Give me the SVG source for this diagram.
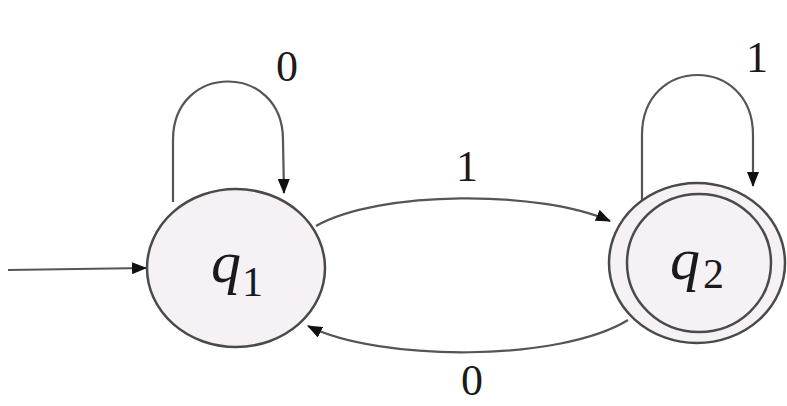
<svg xmlns="http://www.w3.org/2000/svg" width="787" height="406" viewBox="0 0 787 406">
  <style>
    .state { fill: #f5f1f5; stroke: #4a4a4a; stroke-width: 2.5; }
    .ring { fill: none; stroke: #4a4a4a; stroke-width: 2.5; }
    .edge { fill: none; stroke: #555555; stroke-width: 2.2; marker-end: url(#arrow); }
    .name { font-family: "Liberation Serif", "DejaVu Serif", serif; font-style: italic; fill: #1a1a1a; }
    .sub { font-family: "Liberation Serif", "DejaVu Serif", serif; fill: #1a1a1a; }
    .label { font-family: "Liberation Serif", "DejaVu Serif", serif; font-size: 44px; fill: #1a1a1a; text-anchor: middle; }
  </style>
  <defs>
    <marker id="arrow" markerUnits="userSpaceOnUse" markerWidth="16" markerHeight="12" refX="14" refY="6" orient="auto">
      <path d="M0,0 L15,6 L0,12 z" fill="#111111"/>
    </marker>
  </defs>

  <rect width="787" height="406" fill="#ffffff"/>

  <!-- transitions -->
  <g id="edges">
    <path id="start" class="edge" d="M8,270 L146,268"/>
    <path id="q1-q1" class="edge" d="M173,202 L173,140 C173,62 283,62 283,140 L284,193"/>
    <path id="q2-q2" class="edge" d="M642,202 L642,135 C642,55 753,55 753,135 L753,186"/>
    <path id="q1-q2" class="edge" d="M316,226 C380,190 540,190 610,221"/>
    <path id="q2-q1" class="edge" d="M628,320 C560,362 380,362 308,326"/>
  </g>

  <!-- edge labels -->
  <g id="labels">
    <text class="label" x="287" y="81">0</text>
    <text class="label" x="757" y="72">1</text>
    <text class="label" x="467" y="181">1</text>
    <text class="label" x="472" y="395">0</text>
  </g>

  <!-- start state -->
  <g id="q1">
    <ellipse class="state" cx="236" cy="268" rx="89" ry="79"/>
    <text class="name" x="211" y="282" font-size="60">q</text>
    <text class="sub" x="242" y="296" font-size="42">1</text>
  </g>

  <!-- accepting state -->
  <g id="q2">
    <ellipse class="state" cx="697" cy="263" rx="88" ry="80"/>
    <ellipse class="ring" cx="699" cy="263" rx="72" ry="69"/>
    <text class="name" x="670" y="279" font-size="60">q</text>
    <text class="sub" x="703" y="288" font-size="42">2</text>
  </g>
</svg>
